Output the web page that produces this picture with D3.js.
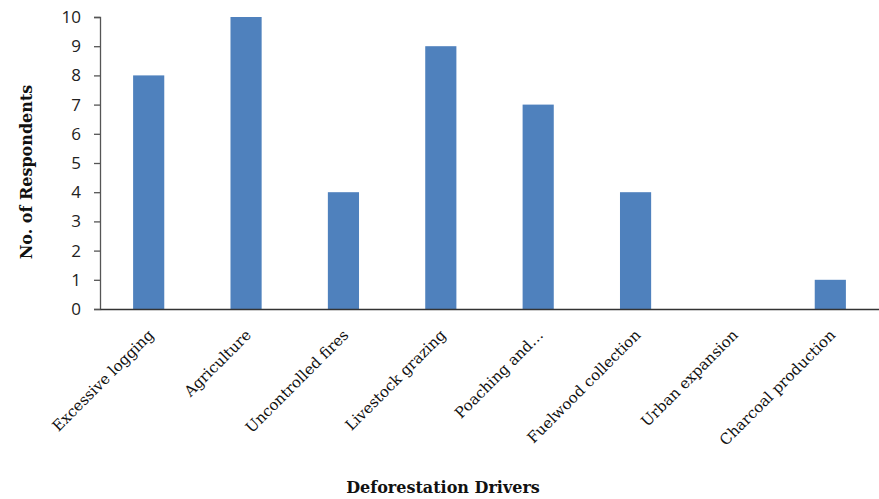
<!DOCTYPE html>
<html>
<head>
<meta charset="utf-8">
<script src="https://cdn.jsdelivr.net/npm/d3@7"></script>
<style>
  body { margin: 0; background: #fff; }
  .tick-y text { font-family: "Open Sans", Lato, sans-serif; font-size: 17px; fill: #222; }
  .tick-x text { font-family: "DejaVu Serif", serif; font-size: 15px; fill: #111; }
  .title { font-family: "DejaVu Serif", serif; font-weight: bold; font-size: 16px; fill: #111; }
</style>
</head>
<body>
<div id="chart"></div>
<script>
// Data
const categories = ["Excessive logging", "Agriculture", "Uncontrolled fires", "Livestock grazing",
  "Poaching and…", "Fuelwood collection", "Urban expansion", "Charcoal production"];
const respondents = [8, 10, 4, 9, 7, 4, 0, 1];
const yTicks = [0, 1, 2, 3, 4, 5, 6, 7, 8, 9, 10];

const width = 879, height = 499;
const margin = { left: 100, right: 0, top: 17, bottom: 190 };

const svg = d3.select("#chart").append("svg")
  .attr("width", width)
  .attr("height", height);

const x = d3.scaleBand()
  .domain(categories)
  .range([margin.left, width - margin.right])
  .paddingInner(0.68)
  .paddingOuter(0.34);

const y = d3.scaleLinear()
  .domain([0, 10])
  .range([height - margin.bottom, margin.top]);

// Bars
svg.selectAll("rect.bar")
  .data(categories)
  .enter().append("rect")
  .attr("class", "bar")
  .attr("x", d => x(d))
  .attr("width", x.bandwidth())
  .attr("y", (d, i) => y(respondents[i]))
  .attr("height", (d, i) => y(0) - y(respondents[i]))
  .attr("fill", "#4F81BD");

// Y axis
const yAxis = svg.append("g")
  .attr("class", "tick-y")
  .attr("transform", `translate(${margin.left},0)`)
  .call(d3.axisLeft(y).tickValues(yTicks).tickSize(6).tickPadding(13));
yAxis.select(".domain").attr("stroke", "#555").attr("stroke-width", 1.3);
yAxis.selectAll(".tick line").attr("stroke", "#555").attr("stroke-width", 1.3);

// X axis
const xAxis = svg.append("g")
  .attr("class", "tick-x")
  .attr("transform", `translate(0,${y(0)})`)
  .call(d3.axisBottom(x).tickSize(0).tickSizeOuter(0));
xAxis.select(".domain").attr("stroke", "#333").attr("stroke-width", 1.5);
xAxis.selectAll(".tick text")
  .attr("text-anchor", "end")
  .attr("x", 0)
  .attr("y", 0)
  .attr("dy", 0)
  .attr("transform", "translate(6,27) rotate(-45)");

// Titles
svg.append("text")
  .attr("class", "title")
  .attr("text-anchor", "middle")
  .attr("x", 443)
  .attr("y", 493)
  .text("Deforestation Drivers");

svg.append("text")
  .attr("class", "title")
  .attr("text-anchor", "middle")
  .attr("transform", "translate(32,172) rotate(-90)")
  .text("No. of Respondents");
</script>
</body>
</html>
